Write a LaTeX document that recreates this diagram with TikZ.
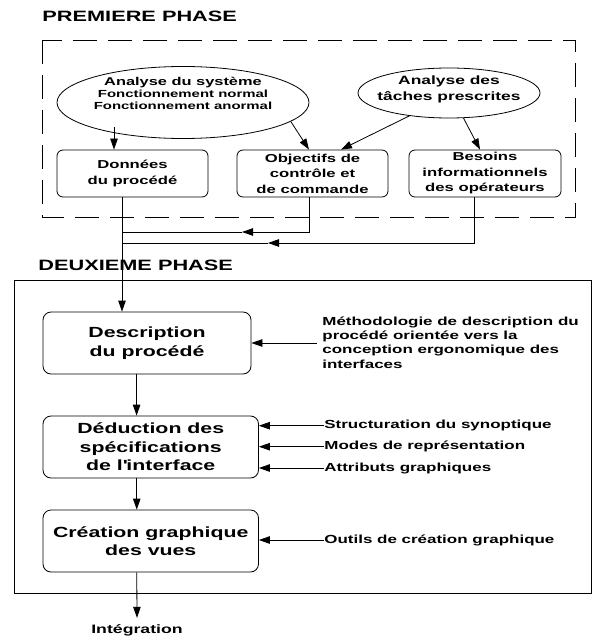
\documentclass[tikz,border=0pt]{standalone}
\usepackage{fontspec}
\setmainfont{Liberation Sans}[FakeStretch=1.45]
\usetikzlibrary{shapes.geometric,arrows.meta,calc}
\begin{document}
\begin{tikzpicture}[x=1pt,y=-1pt,line width=0.8pt,
  arr/.style={-{Triangle[length=11pt,width=7.5pt]}},
  ttl/.style={font=\bfseries\fontsize{15}{18}\selectfont, inner sep=0pt},
  ell/.style={draw, ellipse, inner sep=0pt},
  rbox/.style={draw, rounded corners=6pt, align=center, inner sep=0pt},
  sm/.style={font=\bfseries\fontsize{11.5}{15.5}\selectfont},
  big/.style={font=\bfseries\fontsize{14.7}{18.5}\selectfont, rounded corners=8pt},
  side/.style={font=\bfseries\fontsize{11.7}{14.3}\selectfont, inner sep=0pt}]
\useasboundingbox (0,0) rectangle (592,639);
% ---------- first phase
\node[ttl, anchor=west] (ph1) at (42,16) {PREMIERE PHASE};
\draw[dash pattern=on 24pt off 11pt] (42,40) rectangle (575,217);
\node[ell, minimum width=252pt, minimum height=72pt] (e1) at (183,102.5) {};
\node[align=center, inner sep=0pt] (e1t) at (183,93)
  {{\bfseries\fontsize{11.3}{12}\selectfont Analyse du système}\\[0pt]
   {\bfseries\fontsize{10.3}{13.5}\selectfont Fonctionnement normal}\\
   {\bfseries\fontsize{10.3}{13.5}\selectfont Fonctionnement anormal}};
\node[ell, minimum width=182pt, minimum height=50pt] (e2) at (449,93) {};
\node[align=center, inner sep=0pt, font=\bfseries\fontsize{12}{15.5}\selectfont] (e2t) at (449,89.5)
  {Analyse des\\tâches prescrites};
\node[rbox, sm, minimum width=151pt, minimum height=47pt] (don) at (132.5,173.5) {Données\\du procédé};
\node[rbox, sm, minimum width=151pt, minimum height=47pt] (obj) at (312.5,173.5) {Objectifs de\\contrôle et\\de commande};
\node[rbox, sm, minimum width=152pt, minimum height=47pt] (bes) at (485,173.5) {Besoins\\informationnels\\des opérateurs};
\draw[arr] ([xshift=-18.5pt,yshift=23pt]don.north) -- ([xshift=-18.5pt]don.north);
\draw[arr] (e1.-10) -- ([xshift=-3.5pt]obj.north);
\draw[arr] (e2.210) -- ([xshift=28.5pt]obj.north);
\draw[arr] (e2.-60) -- ([xshift=-5pt]bes.north);
% ---------- joins
\coordinate (dj) at ([xshift=-10.5pt]don.south);
\coordinate (m1) at (242,232);
\coordinate (m2) at (268,243);
\draw[arr] ([xshift=-3.5pt]obj.south) |- (m1);
\draw (m1) -- (m1 -| dj);
\draw[arr] ([xshift=-11pt]bes.south) |- (m2);
\draw (m2) -- (m2 -| dj);
% ---------- second phase
\node[ttl, anchor=west] (ph2) at (38,265) {DEUXIEME PHASE};
\draw (14,280) rectangle (591,593);
\node[rbox, big, minimum width=208pt, minimum height=62pt] (desc) at (147,343) {Description\\du procédé};
\node[rbox, big, minimum width=215.5pt, minimum height=62pt] (ded) at (150.75,447) {Déduction des\\spécifications\\de l\textquotesingle interface};
\node[rbox, big, minimum width=215.5pt, minimum height=62pt] (crea) at (150.75,541) {Création graphique\\des vues};
\draw[arr] (dj) -- (dj |- desc.north);
\draw[arr] ([xshift=-10.4pt]desc.south) -- ([xshift=-10.4pt]desc.south |- ded.north);
\draw[arr] ([xshift=-14pt]ded.south) -- ([xshift=-14pt]ded.south |- crea.north);
% ---------- side labels
\node[side, anchor=west, align=left] (meth) at (322,342.5)
  {Méthodologie de description du\\procédé orientée vers la\\conception ergonomique des\\interfaces};
\draw[arr] ([xshift=-5pt]meth.west |- desc.east) -- (desc.east);
\node[side, anchor=west] (s1) at (324,425.7) {Structuration du synoptique};
\node[side, anchor=west] (s2) at (324,446.7) {Modes de représentation};
\node[side, anchor=west] (s3) at (324,468) {Attributs graphiques};
\node[side, anchor=west] (s4) at (324,540) {Outils de création graphique};
\draw[arr] (s1.west) -- (s1.west -| ded.east);
\draw[arr] (s2.west) -- (s2.west -| ded.east);
\draw[arr] (s3.west) -- (s3.west -| ded.east);
\draw[arr] (s4.west) -- (s4.west -| crea.east);
% ---------- output
\node[side, font=\bfseries\fontsize{12.2}{14}\selectfont, inner sep=1pt] (integ) at (137,630) {Intégration};
\draw[arr] ([xshift=-14pt]crea.south) -- ([yshift=5pt]integ.north);
\end{tikzpicture}
\end{document}
